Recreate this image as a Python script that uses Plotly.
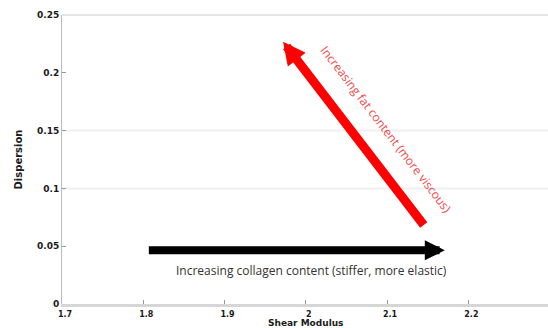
import plotly.graph_objects as go

# axis ticks
x_ticks = [1.7, 1.8, 1.9, 2.0, 2.1, 2.2]
x_tick_text = ["1.7", "1.8", "1.9", "2", "2.1", "2.2"]
y_ticks = [0, 0.05, 0.1, 0.15, 0.2, 0.25]
y_tick_text = ["0", "0.05", "0.1", "0.15", "0.2", "0.25"]

# trend arrows: (tail x, tail y, head x, head y)
collagen_arrow = [1.805, 0.0464, 2.171, 0.0464]
fat_arrow = [2.1465, 0.067, 1.972, 0.2268]

collagen_label = "Increasing collagen content (stiffer, more elastic)"
fat_label = "Increasing fat content (more viscous)"
x_title = "Shear Modulus"
y_title = "Dispersion"

fig = go.Figure()
fig.add_trace(go.Scatter(x=[None], y=[None], mode="markers", showlegend=False))

tick_font = dict(family="DejaVu Sans", size=9, color="#1a1a1a", weight="bold")
title_font = dict(family="DejaVu Sans", size=10, color="#1a1a1a", weight="bold")

fig.update_layout(
    width=548, height=328,
    margin=dict(l=62, r=0, t=15, b=24),
    paper_bgcolor="white", plot_bgcolor="white",
    showlegend=False,
    xaxis=dict(
        range=[1.7, 2.298], tickvals=x_ticks, ticktext=x_tick_text,
        ticks="inside", ticklen=4, tickcolor="#999999",
        showline=True, linecolor="#d6d6d6", linewidth=3, mirror=False,
        showgrid=False, zeroline=False,
        tickfont=dict(family="DejaVu Sans", size=8, color="#1a1a1a", weight="bold"),
        ticklabelstandoff=0, ticklabelshift=3, automargin=False,
    ),
    yaxis=dict(
        range=[0, 0.25], tickvals=y_ticks, ticktext=y_tick_text,
        ticks="inside", ticklen=4, tickcolor="#999999",
        showline=True, linecolor="#bbbbbb", linewidth=1,
        showgrid=False, zeroline=False, tickfont=tick_font, automargin=False,
        title=dict(text=y_title, standoff=12, font=title_font),
    ),
)

# x-axis title sits against the bottom edge of the page
fig.add_annotation(
    x=0.5, y=0, xref="paper", yref="paper", yanchor="bottom", yshift=-25,
    text=x_title, showarrow=False, borderpad=0,
    font=dict(family="DejaVu Sans", size=9, color="#1a1a1a", weight="bold"),
)

# top border line of the plot frame
fig.add_shape(type="line", xref="paper", yref="paper", x0=0, x1=1, y0=1, y1=1,
              line=dict(color="#cccccc", width=1))
# faint horizontal guide lines
for yv in [0.1, 0.15]:
    fig.add_shape(type="line", xref="paper", yref="y", x0=0, x1=1, y0=yv, y1=yv,
                  line=dict(color="#f0f0f0", width=2), layer="below")

fig.add_annotation(
    x=collagen_arrow[2], y=collagen_arrow[3], ax=collagen_arrow[0], ay=collagen_arrow[1],
    xref="x", yref="y", axref="x", ayref="y", text="", showarrow=True,
    arrowhead=2, arrowsize=0.5, arrowwidth=8, arrowcolor="#000000",
)
fig.add_annotation(
    x=fat_arrow[2], y=fat_arrow[3], ax=fat_arrow[0], ay=fat_arrow[1],
    xref="x", yref="y", axref="x", ayref="y", text="", showarrow=True,
    arrowhead=2, arrowsize=0.5, arrowwidth=9, arrowcolor="#ff0000",
)

fig.add_annotation(
    x=(collagen_arrow[0] + collagen_arrow[2]) / 2 + 0.019, y=0.029, xref="x", yref="y",
    text=collagen_label, showarrow=False,
    font=dict(family="Open Sans", size=12, color="#333333"),
)
fig.add_annotation(
    x=2.099, y=0.151, xref="x", yref="y",
    text=fat_label, showarrow=False, textangle=52.5,
    font=dict(family="Open Sans", size=12, color="#f04848"),
)

fig.write_html("out.html")
